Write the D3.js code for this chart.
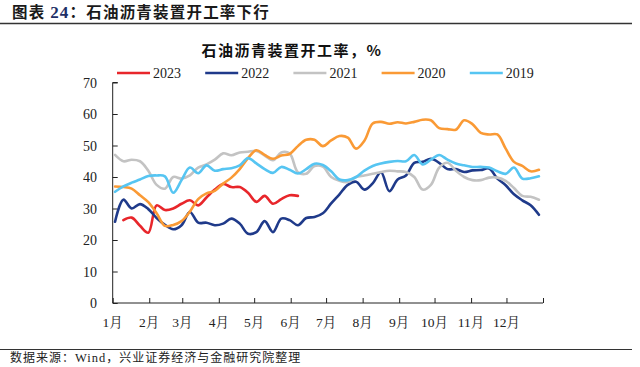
<!DOCTYPE html>
<html><head><meta charset="utf-8">
<script src="https://cdn.jsdelivr.net/npm/d3@7/dist/d3.min.js"></script>
<style>body{margin:0;background:#fff}svg{display:block}</style>
</head><body><svg id="c" width="640" height="367"></svg>
<script>
const years = ["2023","2022","2021","2020","2019"];
const colors = ["#e8262b","#1f3a8a","#c3c3c3","#fa9a35","#56c5f2"];
const months = ["1月","2月","3月","4月","5月","6月","7月","8月","9月","10月","11月","12月"];
const monthStartDays = [0,31,59,90,120,151,181,212,243,273,304,334,365];
const yTicks = [0,10,20,30,40,50,60,70];

const v2023 = [null,26.3,27.1,24.5,22.3,31,29.5,30,31.5,32.6,31,33.5,36,37.8,36.8,36.8,35,32.1,34,31.5,33,34.2,34];
const v2022 = [25.8,32.8,30,31.4,29.8,27,24.8,23.4,24.7,28.9,25.5,25.5,24.7,25.2,26.8,25.2,22,22.5,26,22.5,26.8,26.3,24.7,27,27.3,28.5,31.6,34.5,37.5,38.5,36,38,41.5,35.5,39.2,40.5,44.5,44.8,45.8,44.5,42.5,42.5,41.6,42.1,42.2,42.7,39.5,37.4,34.5,32.6,31,28];
const v2021 = [47,45,45.5,45,42,37.5,36.3,40,39.5,40.5,43,44,45.5,47.5,46.9,47.8,48,48.3,46.8,45.3,47.8,47.5,41.5,41,43.5,43.3,40,38.8,38.4,40,40.5,41,41.6,42,41.8,41.6,40,36,37.5,43,44.5,42,40,39,39,39.8,39.8,38.8,36.5,34,33.7,32.8];
const v2020 = [37,36.8,36.3,34.2,32,28.5,24.5,24.8,26,29,33,34.8,35.6,37.9,39.8,42.5,46,48.5,47,45.8,46.8,47.3,49.8,51.8,51.8,49.8,51.6,53,52.5,49,51.5,57,57.5,56.9,57.4,57,57.5,58.2,58,55.5,55.2,55,58,56.8,54,53.5,53.5,49,44.8,43.5,41.8,42.3];
const v2019 = [35.3,37,38.2,39.2,40.3,40.5,40.2,35,39,43,41.2,43.7,42,42.5,42.8,43.7,46,44.3,42.5,41.3,43.2,42.3,41.1,42.5,44.2,43.8,41.8,39.2,39,40,42,43.5,44.3,44.8,45.1,45,47,44,45.5,47,45.5,44.3,43.7,43.2,43.2,43,41.8,41,43,39.5,39.6,40.2];
const seriesValues = [v2023, v2022, v2021, v2020, v2019];

const svg = d3.select("#c");
svg.append("rect").attr("width",640).attr("height",367).attr("fill","#fff");

// header
const title = svg.append("text").attr("x",12).attr("y",18)
  .attr("font-family","'Noto Sans CJK SC',sans-serif").attr("font-weight","bold")
  .attr("font-size",15.5).attr("fill","#1a1a1a").attr("letter-spacing",1.2);
title.append("tspan").text("图表 ");
title.append("tspan").attr("font-family","'Liberation Serif',serif").attr("font-size",17).attr("fill","#1e2f66").text("24");
title.append("tspan").text("：石油沥青装置开工率下行");
svg.append("line").attr("x1",0).attr("x2",632).attr("y1",23.5).attr("y2",23.5).attr("stroke","#333").attr("stroke-width",1.5);
svg.append("line").attr("x1",0).attr("x2",632).attr("y1",349.5).attr("y2",349.5).attr("stroke","#333").attr("stroke-width",1);
const src = svg.append("text").attr("x",10).attr("y",362)
  .attr("font-family","'Noto Sans CJK SC',sans-serif").attr("font-size",12).attr("fill","#222").attr("letter-spacing",1);
src.append("tspan").text("数据来源：");
src.append("tspan").attr("font-family","'Liberation Serif',serif").attr("font-size",12.5).text("Wind");
src.append("tspan").text("，兴业证券经济与金融研究院整理");

svg.append("text").attr("x",292).attr("y",56).attr("text-anchor","middle")
  .attr("font-family","'Noto Sans CJK SC',sans-serif").attr("font-weight","bold")
  .attr("font-size",15).attr("letter-spacing",1.5).attr("fill","#111")
  .text("石油沥青装置开工率，%");

// scales
const x = d3.scaleLinear().domain([0,365]).range([112.7,543]);
const y = d3.scaleLinear().domain([0,70]).range([303,82.5]);
const serif = "'Liberation Serif','Noto Serif CJK SC','Noto Sans CJK SC',serif";

// y axis
const yAxis = svg.append("g").attr("transform",`translate(${x(0)},0)`)
  .call(d3.axisRight(y).tickValues(yTicks).tickSize(5).tickFormat(""));
yAxis.select(".domain").attr("d",`M5,${y(70)}H0V${y(0)}`).attr("stroke","#222");
yAxis.selectAll(".tick line").attr("stroke","#222");
svg.append("g").selectAll("text").data(yTicks).join("text")
  .attr("x",97).attr("y",d=>y(d)+5).attr("text-anchor","end")
  .attr("font-family",serif).attr("font-size",14).attr("fill","#222").text(d=>d);

// x axis
const xAxis = svg.append("g").attr("transform",`translate(0,${y(0)})`)
  .call(d3.axisTop(x).tickValues(monthStartDays).tickSize(5).tickFormat(""));
xAxis.select(".domain").attr("d",`M${x(0)},0H${x(365)}`).attr("stroke","#222");
xAxis.selectAll(".tick line").attr("stroke","#222");
svg.append("g").selectAll("text").data(months).join("text")
  .attr("x",(d,i)=>x(monthStartDays[i])).attr("y",327).attr("text-anchor","middle")
  .attr("font-family",serif).attr("font-size",13.5).attr("fill","#222").text(d=>d);

// lines
const weekDay = i => 2 + 7.05*i;
const line = d3.line().defined(d=>d!=null).x((d,i)=>x(weekDay(i))).y(d=>y(d)).curve(d3.curveCatmullRom.alpha(0.5));
seriesValues.forEach((vals,k)=>{
  svg.append("path").attr("d",line(vals)).attr("fill","none")
    .attr("stroke",colors[k]).attr("stroke-width",2.6).attr("stroke-linejoin","round").attr("stroke-linecap","round");
});

// legend
const lg = svg.append("g").selectAll("g").data(years).join("g")
  .attr("transform",(d,i)=>`translate(${117+i*88.2},73)`);
lg.append("line").attr("x1",0).attr("x2",33).attr("stroke",(d,i)=>colors[i]).attr("stroke-width",2.6);
lg.append("text").attr("x",36).attr("y",5).attr("font-family",serif).attr("font-size",14).attr("fill","#222").text(d=>d);
</script>
</body></html>
